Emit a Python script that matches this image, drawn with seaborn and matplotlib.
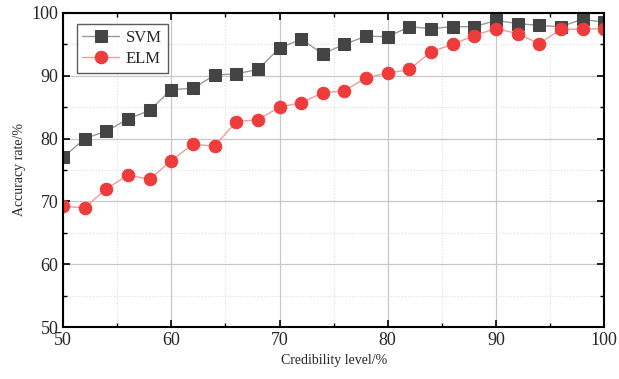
import numpy as np
import pandas as pd
import seaborn as sns
import matplotlib.pyplot as plt
from matplotlib.ticker import MultipleLocator

credibility = list(range(50, 101, 2))
svm_acc = [77.0, 80.0, 81.2, 83.1, 84.5, 87.8, 88.0, 90.1, 90.3, 91.0,
           94.4, 95.8, 93.5, 95.0, 96.3, 96.2, 97.8, 97.5, 97.8, 97.8,
           98.8, 98.3, 98.0, 97.8, 99.0, 98.5]
elm_acc = [69.2, 69.0, 72.0, 74.2, 73.5, 76.5, 79.1, 78.8, 82.7, 83.0,
           85.0, 85.7, 87.3, 87.6, 89.7, 90.4, 91.0, 93.8, 95.0, 96.4,
           97.5, 96.7, 95.1, 97.4, 97.4, 97.5]

df = pd.DataFrame({
    "Credibility": credibility * 2,
    "Accuracy": svm_acc + elm_acc,
    "Model": ["SVM"] * len(svm_acc) + ["ELM"] * len(elm_acc),
})

sns.set_style("ticks")
plt.rcParams["font.family"] = ["Liberation Serif", "DejaVu Serif"]

fig = plt.figure(figsize=(6.19, 3.79), dpi=100)
ax = fig.add_axes([0.102, 0.137, 0.874, 0.829])

line_colors = {"SVM": "#9a9a9a", "ELM": "#f59a9a"}
marker_colors = {"SVM": "#444444", "ELM": "#ee3b3b"}
markers = {"SVM": "s", "ELM": "o"}

for model in ["SVM", "ELM"]:
    sub = df[df["Model"] == model]
    sns.lineplot(data=sub, x="Credibility", y="Accuracy", ax=ax,
                 color=line_colors[model], linewidth=1.0,
                 marker=markers[model], markersize=9 if model == "ELM" else 8,
                 markerfacecolor=marker_colors[model],
                 markeredgecolor=marker_colors[model],
                 label=model)

ax.set_xlim(50, 100)
ax.set_ylim(50, 100)
ax.xaxis.set_major_locator(MultipleLocator(10))
ax.xaxis.set_minor_locator(MultipleLocator(5))
ax.yaxis.set_major_locator(MultipleLocator(10))
ax.yaxis.set_minor_locator(MultipleLocator(5))
ax.grid(which="major", color="#c8c8c8", linewidth=0.9)
ax.grid(which="minor", color="#dddddd", linewidth=0.8, linestyle=":")
ax.set_axisbelow(True)
ax.tick_params(which="both", direction="in", top=True, right=True,
               labelsize=13, color="black")
ax.tick_params(which="major", length=5, width=1.2)
ax.tick_params(which="minor", length=3, width=1.0)
for s in ax.spines.values():
    s.set_linewidth(1.5)
    s.set_color("black")

ax.set_xlabel("Credibility level/%", fontsize=10)
ax.set_ylabel("Accuracy rate/%", fontsize=10)

leg = ax.legend(loc="upper left", fontsize=12, frameon=True, fancybox=False,
                edgecolor="#333333", handlelength=2.2, borderpad=0.35,
                labelspacing=0.3, handletextpad=0.4, borderaxespad=0,
                bbox_to_anchor=(0.025, 0.965))
leg.get_frame().set_linewidth(1.0)

fig.savefig("out.png", dpi=100)
